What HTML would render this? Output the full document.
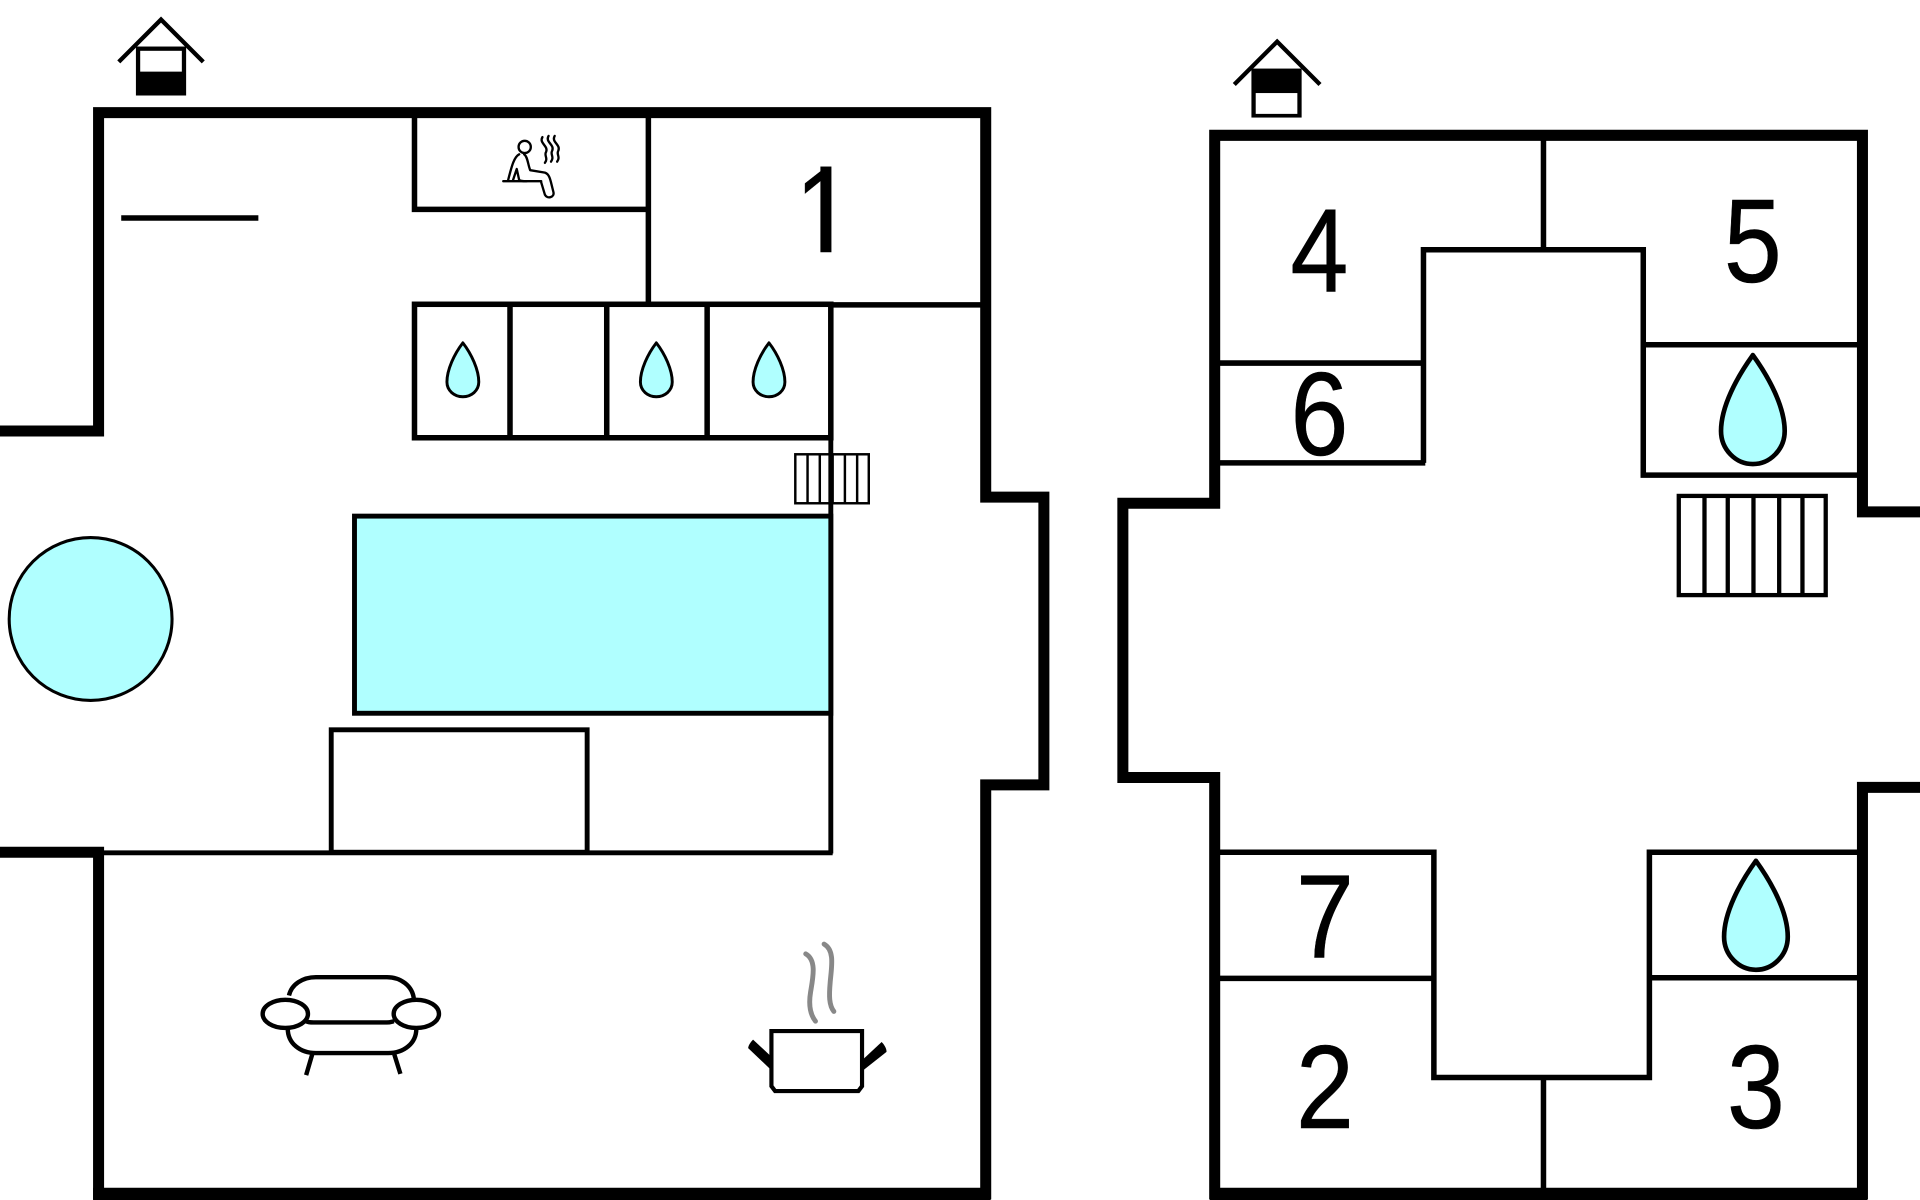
<!DOCTYPE html>
<html><head><meta charset="utf-8"><style>
html,body{margin:0;padding:0;background:#fff;width:1920px;height:1200px;overflow:hidden}
svg{display:block}
text{font-family:"Liberation Sans",Arial,sans-serif;font-size:97px;fill:#000;stroke:#000;stroke-width:.4;text-anchor:middle}
</style></head><body>
<svg width="1920" height="1200" viewBox="0 0 1568 980" xmlns="http://www.w3.org/2000/svg">
<rect width="1568" height="980" fill="#fff"/>
<defs>
<path id="d" d="M0,0 C7,9 13,22 13,32 C13,39 7,44 0,44 C-7,44 -13,39 -13,32 C-13,22 -7,9 0,0 Z"/>
<path id="D" d="M0,0 C13,18 26,42 26,62 C26,77 14,89 0,89 C-14,89 -26,77 -26,62 C-26,42 -13,18 0,0 Z"/>
<clipPath id="oneclip"><rect x="640" y="120" width="39" height="78"/></clipPath>
</defs>
<!-- outer walls -->
<g fill="none" stroke="#000" stroke-width="9" stroke-linejoin="miter">
<path d="M0,352 H80.500 V92 H805 V406 H852.500 V641 H805 V975 H80.500 V696 H0"/>
<path d="M1568,418 H1521 V110.500 H992 V411 H917 V635 H992 V975 H1521 V643 H1568"/>
</g>
<rect x="76" y="970" width="733" height="10"/>
<rect x="988" y="970" width="537" height="10"/>
<!-- left interior -->
<g fill="none" stroke="#000" stroke-width="4.500">
<path d="M338.500,95 V171 H529"/>
<path d="M529.500,95 V249"/>
<path d="M99,178 H211" />
<rect x="338.500" y="248.500" width="340" height="109"/>
<path d="M416.500,248 V358 M495.500,248 V358 M577.500,248 V358"/>
<path d="M678,249 H802"/>
<path d="M678.500,248 V697" stroke-width="4"/>
<path d="M84,696.500 H680" stroke-width="4"/>
<rect x="270.500" y="596" width="209" height="100" stroke-width="4"/>
</g>
<rect x="289.500" y="421.500" width="389" height="161" fill="#b0ffff" stroke="#000" stroke-width="4"/>
<circle cx="74" cy="505.500" r="66.500" fill="#b0ffff" stroke="#000" stroke-width="2.500"/>
<g fill="none" stroke="#000" stroke-width="2">
<rect x="649.500" y="371" width="60" height="40"/>
<path d="M659.500,371 V411 M669.500,371 V411 M680,371 V411 M690,371 V411 M700,371 V411"/>
</g>
<g fill="#b0ffff" stroke="#000" stroke-width="2.400" stroke-linejoin="round">
<use href="#d" x="378" y="280"/>
<use href="#d" x="536" y="280"/>
<use href="#d" x="628" y="280"/>
</g>
<g fill="#b0ffff" stroke="#000" stroke-width="3.800" stroke-linejoin="round">
<use href="#D" x="1431.500" y="290"/>
<use href="#D" x="1434" y="703"/>
</g>
<!-- right interior -->
<g fill="none" stroke="#000" stroke-width="4.500">
<path d="M1260.500,112 V204"/>
<path d="M1162.500,378 V204 H1342 V388 H1518"/>
<path d="M995,378 H1164"/>
<path d="M995,296.500 H1162"/>
<path d="M1342,281.500 H1518"/>
<path d="M995,696 H1171 V880 H1347 V696 H1518"/>
<path d="M995,799 H1171"/>
<path d="M1347,798.500 H1518"/>
<path d="M1260.500,880 V972"/>
</g>
<g fill="none" stroke="#000" stroke-width="3.500">
<rect x="1371" y="405" width="120" height="81"/>
<path d="M1392,405 V486 M1411,405 V486 M1432,405 V486 M1453,405 V486 M1472,405 V486"/>
</g>
<!-- numbers -->
<g clip-path="url(#oneclip)"><text transform="translate(673,206) scale(.88,1)">1</text></g>
<rect x="670" y="136" width="9" height="70"/>
<text transform="translate(1077.500,238) scale(.88,1)">4</text>
<text transform="translate(1431.500,230.500) scale(.88,1)">5</text>
<text transform="translate(1077.500,371.500) scale(.88,1)">6</text>
<text transform="translate(1082,782) scale(.88,1)">7</text>
<text transform="translate(1082,921) scale(.88,1)">2</text>
<text transform="translate(1434,921) scale(.88,1)">3</text>
<!-- houses -->
<g fill="none" stroke="#000" stroke-width="3.500">
<path d="M97,50.500 L131.500,16 L166,50.500"/>
<path d="M1008,69 L1043,34 L1078,69"/>
</g>
<rect x="111" y="38" width="41" height="40"/>
<rect x="114.500" y="41.500" width="34" height="17" fill="#fff"/>
<rect x="1022" y="56" width="41" height="40"/>
<rect x="1025.500" y="76" width="34" height="17" fill="#fff"/>
<!-- sauna -->
<g fill="none" stroke="#000" stroke-width="1.900" stroke-linecap="round" stroke-linejoin="round">
<circle cx="428.500" cy="120" r="5"/>
<path d="M411,148 H442"/>
<path d="M424,126 C420,128 418,135 415,147"/>
<path d="M428,126 C431,128 431,134 433,139 L445,141 C448,142 449,145 450,149 L452,157 C453,161 447,163 445,159 L442,149"/>
<path d="M419,147 L422,138 L424,147 C425,148 428,148 430,148"/>
<path d="M443,112 C440,117 448,119 446,124 C444,127 448,129 445,133"/>
<path d="M448,111 C445,116 453,118 451,123 C449,126 453,128 450,132"/>
<path d="M453,111 C450,116 458,118 456,123 C454,126 458,128 455,132"/>
</g>
<!-- sofa -->
<g fill="none" stroke="#000" stroke-width="3.600" stroke-linecap="butt">
<path d="M236,813 C238,804 247,798 258,798 H316 C327,798 337,805 338,816"/>
<ellipse cx="233" cy="828" rx="18.500" ry="11.500"/>
<ellipse cx="340" cy="828" rx="18.500" ry="11.500"/>
<path d="M250,834 C252,835 254,835 256,835 H316 C319,835 321,834 322,834"/>
<path d="M235,840 C235,852 245,860 258,860 H317 C330,860 340,852 340,840"/>
<path d="M255,861 L250,878 M322,861 L327,877"/>
</g>
<!-- pot -->
<path d="M630,842 H704 V887 L701,891 H633 L630,887 Z" fill="#fff" stroke="#000" stroke-width="3.400"/>
<path d="M615,849 L630,863 V874 L611,856 C611,854 613,851 615,849 Z"/>
<path d="M720,851 C722,853 724,856 724,859 L705,874 V865 Z"/>
<g fill="none" stroke="#888" stroke-width="4" stroke-linecap="round">
<path d="M658,779 C667,784 664,798 662,810 C660,822 662,829 666,834"/>
<path d="M673,771 C682,776 679,790 678,802 C677,813 677,821 681,826"/>
</g>
</svg>
</body></html>
